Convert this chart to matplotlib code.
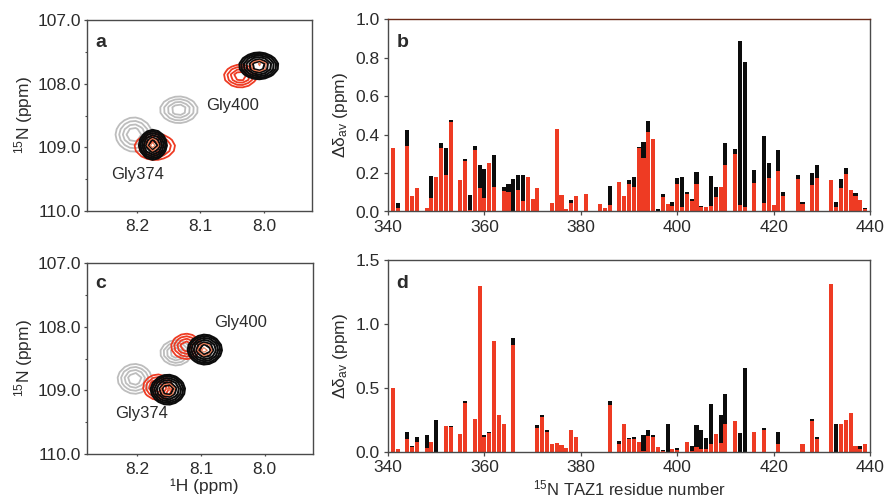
import matplotlib
matplotlib.use('Agg')
import matplotlib.pyplot as plt
import numpy as np

plt.rcParams['font.family'] = ['Liberation Sans', 'DejaVu Sans']
plt.rcParams['mathtext.fontset'] = 'custom'
plt.rcParams['mathtext.rm'] = 'Liberation Sans'
plt.rcParams['mathtext.it'] = 'Liberation Sans'
plt.rcParams['mathtext.default'] = 'rm'

RED = '#ee3b23'
BLACK = '#0c0c0c'
GREY = '#bdbdbd'
TXT = '#2b2b2b'
SPINE = '#4a4a4a'

# residue, red value, black value
b_res = [341, 342, 344, 345, 346, 348, 349, 350, 351, 352, 353, 355, 356, 357, 358, 359, 360, 361, 362,
         364, 365, 366, 367, 368, 369, 370, 371, 374, 375, 376, 377, 378, 379, 381, 384, 385, 386,
         388, 389, 390, 391, 392, 393, 394, 395, 396, 397, 398, 399, 400, 401, 402, 403, 404, 405, 406,
         407, 408, 409, 410, 412, 413, 414, 416, 418, 419, 420, 421, 422, 425, 426, 428, 429,
         432, 433, 434, 435, 436, 437, 438, 439]
b_red = [.33, .02, .34, .08, .12, .02, .07, .18, .33, .19, .465, .165, .265, .01, .32, .12, .07, .255, .125,
         .105, .10, 0, .11, .055, .18, .065, .12, .045, .43, .085, .015, .045, .08, .09, .04, .02, .035,
         .155, .08, .145, .125, .33, .28, .415, .38, .005, .075, .04, .03, .145, .025, .09, .055, .145, .025, .025,
         .03, .075, .13, .24, .30, .035, .025, .15, .045, .175, .035, .21, .08, .17, .04, .14, .175,
         .165, .025, .12, .195, .11, .08, .06, .015]
b_blk = [0, .045, .425, 0, 0, 0, .185, 0, .355, .33, .475, 0, .275, .085, .34, .24, .22, 0, .295,
         .125, .145, .17, .19, .19, 0, 0, 0, 0, 0, 0, 0, .06, 0, 0, 0, 0, .135,
         0, 0, .165, .18, .335, .36, .47, 0, .015, .09, 0, .05, .175, .18, .10, .065, .205, .03, 0,
         .185, .125, 0, .355, .325, .89, .78, .215, .395, .255, 0, .32, .10, .19, .05, .20, .24,
         0, .05, .17, .225, 0, .095, 0, .02]

d_res = [341, 342, 344, 345, 346, 348, 349, 350, 352, 353, 355, 356, 358, 359, 360, 361, 362, 363, 364, 366,
         371, 372, 373, 374, 375, 376, 377, 378, 379, 386,
         388, 389, 390, 391, 392, 393, 394, 395, 396, 397, 398, 399, 400, 402, 403, 404, 405, 406,
         407, 408, 409, 410, 412, 413, 414, 416, 418, 421, 426, 428, 429,
         432, 433, 434, 435, 436, 437, 438, 439]
d_red = [.50, .02, .10, .04, .08, .035, .08, 0, .20, .195, .14, .38, .26, 1.30, .12, .145, .865, .29, .215, .835,
         .19, .27, .155, .065, .07, .055, .03, .17, .12, .37,
         .06, .215, .10, .105, .08, .005, .125, .115, .04, .005, 0, .025, .015, .08, .005, .04, .025, .025,
         .06, .14, .07, .215, .245, 0, 0, .16, .175, .06, .06, .24, .10,
         1.31, 0, .215, .25, .305, .05, .025, .065]
d_blk = [0, .025, .16, .045, .115, .135, 0, .25, 0, .20, 0, .40, 0, 0, .135, .155, 0, 0, 0, .89,
         .21, .29, .17, 0, 0, 0, 0, 0, 0, .40,
         .085, 0, .11, .12, 0, .135, .17, .13, 0, .015, .22, 0, .035, 0, .05, .21, .175, .11,
         .375, 0, .29, .45, 0, .145, .66, 0, .185, .16, 0, .255, .115,
         0, .215, 0, 0, 0, 0, .045, 0]

# 1H centre, 15N centre, half width 1H, half width 15N
a_grey = [(8.134, 108.41, .030, .21), (8.205, 108.80, .029, .27)]
a_red = [(8.037, 107.88, .026, .18), (8.172, 108.99, .032, .21)]
a_black = [(8.008, 107.72, .031, .21), (8.175, 108.96, .022, .235)]
c_grey = [(8.139, 108.41, .025, .20), (8.204, 108.82, .027, .235)]
c_red = [(8.123, 108.31, .024, .20), (8.168, 108.95, .023, .20)]
c_black = [(8.094, 108.36, .027, .235), (8.152, 108.99, .027, .235)]


def rect(l, t, r, b):
    return [l / 887, 1 - b / 498, (r - l) / 887, (b - t) / 498]


def peaks(ax, plist, color, levels, lw):
    # coarse grid on purpose, it gives the faceted look of the spectra
    xx = np.linspace(7.9, 8.3, 46)
    yy = np.linspace(107, 110, 36)
    X, Y = np.meshgrid(xx, yy)
    for (cx, cy, wx, wy) in plist:
        R = (np.abs((X - cx) / wx) ** 1.9 + np.abs((Y - cy) / wy) ** 1.9) ** (1 / 1.9)
        ax.contour(X, Y, R, levels=levels, colors=color, linewidths=lw)


def spectrum(pos, letter, letter_y, grey, red, black, labels, xlabel=False):
    ax = fig.add_axes(pos)
    peaks(ax, grey, GREY, [.4, .6, .8, 1.0], 1.3)
    peaks(ax, red, RED, [.4, .6, .8, 1.0], 1.3)
    peaks(ax, black, BLACK, [.35, .5, .65, .78, .9, 1.0], 1.5)
    # pale rings that show through the middle of the black peaks
    peaks(ax, black, '#e8764f', [.2, .42], .8)
    ax.set_xlim(8.279, 7.924)
    ax.set_ylim(110, 107)
    ax.set_xticks([8.2, 8.1, 8.0], ['8.2', '8.1', '8.0'])
    ax.set_yticks([107, 108, 109, 110], ['107.0', '108.0', '109.0', '110.0'])
    ax.set_yticks([107.5, 108.5, 109.5], minor=True)
    ax.tick_params(which='major', length=2.5, width=.9, color=SPINE, labelsize=12.5, labelcolor=TXT, pad=1.5)
    ax.tick_params(axis='x', which='major', length=1.5, pad=4)
    ax.tick_params(which='minor', length=1.5, width=.8, color=SPINE)
    ax.set_ylabel('$^{15}$N (ppm)', fontsize=12.5, color=TXT, labelpad=2)
    if xlabel:
        ax.set_xlabel('¹H (ppm)', fontsize=12.5, color=TXT, labelpad=1, x=.52)
    for s in ax.spines.values():
        s.set_color(SPINE)
        s.set_linewidth(1.0)
    ax.text(.036, letter_y, letter, transform=ax.transAxes, fontsize=14, fontweight='bold', color=TXT, va='center')
    for t, x, y in labels:
        ax.text(x, y, t, fontsize=12, color=TXT, ha='center', va='center')
    return ax


def bars(pos, letter, res, red, blk, ymax, ticks, fmt, xlabel=False):
    ax = fig.add_axes(pos)
    ax.bar(res, blk, width=.85, color=BLACK, linewidth=0)
    ax.bar(res, red, width=.85, color=RED, linewidth=0)
    ax.set_xlim(340, 440)
    ax.set_ylim(0, ymax)
    ax.set_xticks(range(340, 441, 20))
    ax.set_yticks(ticks, [fmt % t for t in ticks])
    ax.tick_params(length=3, width=.9, color=SPINE, labelsize=12.5, labelcolor=TXT, pad=3)
    ax.set_ylabel(r'$\Delta\delta_{av}$ (ppm)', fontsize=12.5, color=TXT, labelpad=4)
    if xlabel:
        ax.set_xlabel('$^{15}$N TAZ1 residue number', fontsize=12, color=TXT, labelpad=2.5)
    for s in ax.spines.values():
        s.set_color(SPINE)
        s.set_linewidth(1.0)
    ax.text(.018, .88, letter, transform=ax.transAxes, fontsize=14, fontweight='bold', color=TXT, va='center')
    return ax


fig = plt.figure(figsize=(8.87, 4.98), dpi=100)

spectrum(rect(87, 20, 312, 211), 'a', .88, a_grey, a_red, a_black,
         [('Gly400', 8.049, 108.35), ('Gly374', 8.2, 109.43)])
spectrum(rect(87, 263, 313, 454), 'c', .895, c_grey, c_red, c_black,
         [('Gly400', 8.037, 107.93), ('Gly374', 8.194, 109.36)], xlabel=True)

ax_b = bars(rect(388, 19.5, 870, 211.5), 'b', b_res, b_red, b_blk, 1.0,
            [0, .2, .4, .6, .8, 1.0], '%.1f')
ax_b.spines['top'].set_color('#6b2a18')
bars(rect(388, 260, 870, 452), 'd', d_res, d_red, d_blk, 1.5,
     [0, .5, 1.0, 1.5], '%.1f', xlabel=True)

fig.savefig('out.png', dpi=100)
